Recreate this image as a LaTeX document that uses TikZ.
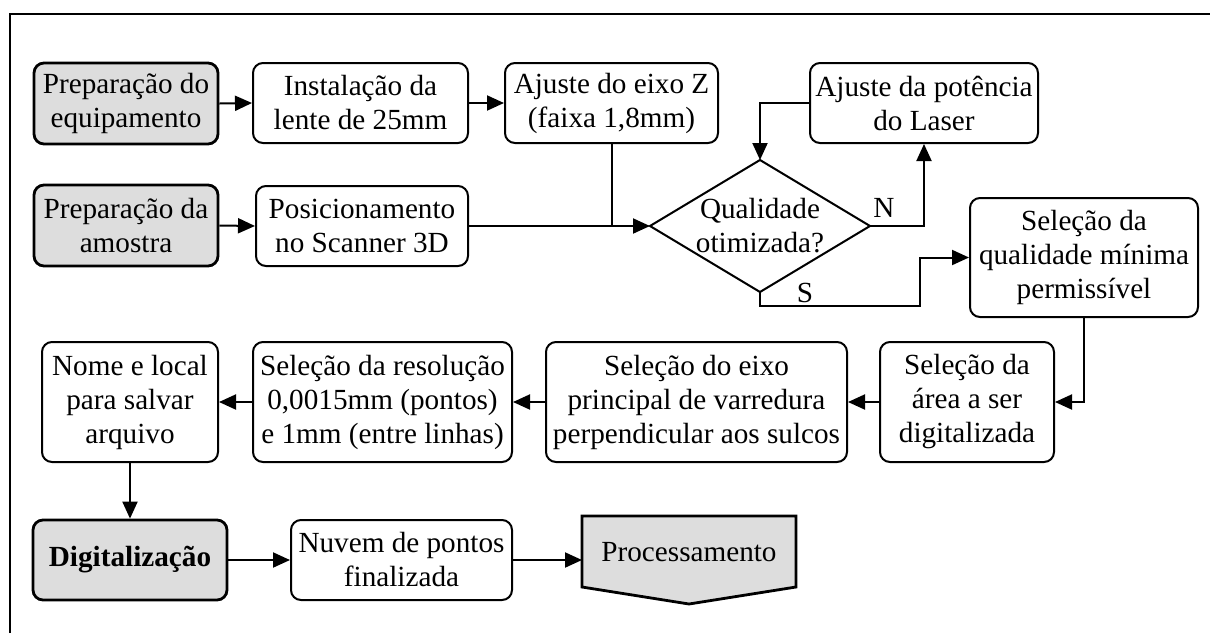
\documentclass[tikz,border=0pt]{standalone}
\usepackage{fontspec}
\setmainfont{Liberation Serif}
\usetikzlibrary{arrows.meta}
\definecolor{boxgray}{RGB}{221,221,221}
\tikzset{
  base/.style={draw, line width=2pt, rounded corners=10pt, align=center, inner sep=0pt,
    font=\fontsize{29.2}{34}\selectfont},
  wbox/.style={base, fill=white},
  gbox/.style={base, fill=boxgray, line width=2.8pt},
  conn/.style={line width=2pt, -{Triangle[length=17pt,width=15pt]}},
  plain/.style={line width=2pt},
  lbl/.style={font=\fontsize{29.2}{34}\selectfont, inner sep=0pt}
}
\begin{document}
\begin{tikzpicture}[x=1pt,y=-1pt]
\useasboundingbox (0,0) rectangle (1210,633);
% frame
\draw[line width=2pt] (10,633) -- (10,14) -- (1210,14);

% top rows
\node[gbox, minimum width=184pt, minimum height=81pt] (prepEq) at (126,103.5) {Preparação do\\equipamento};
\node[gbox, minimum width=184pt, minimum height=81pt] (prepAm) at (126,225.5) {Preparação da\\amostra};
\node[wbox, minimum width=215pt, minimum height=80pt] (inst) at (360.5,103) {Instalação da\\lente de 25mm};
\node[wbox, minimum width=212pt, minimum height=80pt] (pos) at (362,226) {Posicionamento\\no Scanner 3D};
\node[wbox, minimum width=213pt, minimum height=80pt] (ajz) at (611.5,103) {Ajuste do eixo Z\\(faixa 1,8mm)};
\node[wbox, minimum width=228pt, minimum height=80pt] (pot) at (924,103) {Ajuste da potência\\do Laser};

% diamond
\coordinate (diaL) at (650,226);
\coordinate (diaR) at (870,226);
\coordinate (diaT) at (760,160);
\coordinate (diaB) at (760,292);
\draw[line width=2pt, fill=white] (diaL) -- (diaT) -- (diaR) -- (diaB) -- cycle;
\node[lbl, align=center] (dia) at (760,226) {Qualidade\\otimizada?};

\node[wbox, minimum width=228pt, minimum height=119pt] (selq) at (1084,257.5) {Seleção da\\qualidade mínima\\permissível};

% middle row
\node[wbox, minimum width=174pt, minimum height=120pt] (sela) at (967,402) {Seleção da\\área a ser\\digitalizada};
\node[wbox, minimum width=301pt, minimum height=120pt] (sele) at (696.5,402) {Seleção do eixo\\principal de varredura\\perpendicular aos sulcos};
\node[wbox, minimum width=259pt, minimum height=120pt] (selr) at (382.5,402) {Seleção da resolução\\0,0015mm (pontos)\\e 1mm (entre linhas)};
\node[wbox, minimum width=176pt, minimum height=120pt] (nome) at (130,402) {Nome e local\\para salvar\\arquivo};

% bottom row
\node[gbox, minimum width=194pt, minimum height=80pt, font=\fontsize{29.2}{34}\selectfont\bfseries] (dig) at (130,560) {Digitalização};
\node[wbox, minimum width=221pt, minimum height=80pt] (nuv) at (401.5,560) {Nuvem de pontos\\finalizada};
\draw[line width=2.8pt, fill=boxgray] (582,516) -- (796,516) -- (796,587) -- (689,604) -- (582,587) -- cycle;
\coordinate (procW) at (582,560);
\node[lbl] (proc) at (689,552) {Processamento};

% connectors
\draw[conn] (prepEq.east) -- (inst.west);
\draw[conn] (inst.east) -- (ajz.west);
\draw[conn] (prepAm.east) -- (pos.west);
\draw[conn] (pos.east) -- (diaL);
\draw[plain] (ajz.south) -- (ajz.south |- diaL);
\draw[conn] (pot.west) -| (diaT);
\draw[conn] (diaR) -| (pot.south);
\node[lbl] (nlbl) at (884,208) {N};
\draw[conn] (diaB) -- ++(0,14) -| ([xshift=-49pt]selq.west) -- (selq.west);
\node[lbl] (slbl) at (805,293) {S};
\draw[conn] (selq.south) |- (sela.east);
\draw[conn] (sela.west) -- (sele.east);
\draw[conn] (sele.west) -- (selr.east);
\draw[conn] (selr.west) -- (nome.east);
\draw[conn] (nome.south) -- (dig.north);
\draw[conn] (dig.east) -- (nuv.west);
\draw[conn] (nuv.east) -- (procW);
\end{tikzpicture}
\end{document}
